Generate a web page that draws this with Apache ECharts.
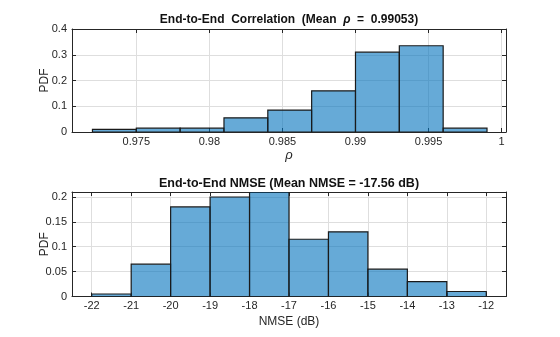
<!DOCTYPE html>
<html>
<head>
<meta charset="utf-8">
<script src="https://cdn.jsdelivr.net/npm/echarts@6/dist/echarts.min.js"></script>
<style>html,body{margin:0;padding:0;background:#fff}#c{width:560px;height:337px}</style>
</head>
<body>
<div id="c"></div>
<script>
// Top histogram: end-to-end correlation
const corrEdges = [0.972, 0.975, 0.978, 0.981, 0.984, 0.987, 0.990, 0.993, 0.996, 0.999];
const corrPdf = [0.01, 0.015, 0.015, 0.055, 0.085, 0.16, 0.31, 0.335, 0.015];
const corrXTicks = [0.975, 0.98, 0.985, 0.99, 0.995, 1];
const corrYTicks = [0, 0.1, 0.2, 0.3, 0.4];

// Bottom histogram: end-to-end NMSE
const nmseEdges = [-22, -21, -20, -19, -18, -17, -16, -15, -14, -13, -12];
const nmsePdf = [0.005, 0.065, 0.18, 0.2, 0.21, 0.115, 0.13, 0.055, 0.03, 0.01];
const nmseXTicks = [-22, -21, -20, -19, -18, -17, -16, -15, -14, -13, -12];
const nmseYTicks = [0, 0.05, 0.1, 0.15, 0.2];

const FONT = 'Liberation Sans, Arial, sans-serif';
const AXC = '#262626';

function binsData(edges, vals) {
  return vals.map((v, i) => [edges[i], edges[i + 1], v]);
}

function renderBin(params, api) {
  const p0 = api.coord([api.value(0), 0]);
  const p1 = api.coord([api.value(1), api.value(2)]);
  return {
    type: 'rect',
    shape: { x: p0[0], y: p1[1], width: p1[0] - p0[0], height: p0[1] - p1[1] },
    style: { fill: 'rgba(0,114,189,0.6)', stroke: '#1a1a1a', lineWidth: 1.2 }
  };
}

function xAxes(gridIndex, min, max, ticks, name, nameStyle, nameGap) {
  return [
    {
      type: 'value', gridIndex, position: 'bottom', min, max,
      name, nameLocation: 'middle', nameGap, nameMoveOverlap: false,
      nameTextStyle: Object.assign({ fontFamily: FONT, fontSize: 12, color: AXC }, nameStyle),
      axisLine: { onZero: false, lineStyle: { color: AXC, width: 1 } },
      axisTick: { inside: true, length: 4, customValues: ticks, lineStyle: { color: AXC } },
      axisLabel: { customValues: ticks, margin: 4, fontFamily: FONT, fontSize: 11, color: AXC },
      splitLine: { show: true, lineStyle: { color: '#dedede', width: 1 } }
    },
    {
      type: 'value', gridIndex, position: 'top', min, max,
      axisLine: { onZero: false, lineStyle: { color: AXC, width: 1 } },
      axisTick: { inside: true, length: 4, customValues: ticks, lineStyle: { color: AXC } },
      axisLabel: { show: false },
      splitLine: { show: false }
    }
  ];
}

function yAxes(gridIndex, min, max, ticks) {
  return [
    {
      type: 'value', gridIndex, position: 'left', min, max,
      name: 'PDF', nameLocation: 'middle', nameGap: 21, nameMoveOverlap: false,
      nameTextStyle: { fontFamily: FONT, fontSize: 12, color: AXC },
      axisLine: { show: true, onZero: false, lineStyle: { color: AXC, width: 1 } },
      axisTick: { show: true, inside: true, length: 4, customValues: ticks, lineStyle: { color: AXC } },
      axisLabel: { customValues: ticks, margin: 5, fontFamily: FONT, fontSize: 11, color: AXC },
      splitLine: { show: true, lineStyle: { color: '#dedede', width: 1 } }
    },
    {
      type: 'value', gridIndex, position: 'right', min, max,
      axisLine: { show: true, onZero: false, lineStyle: { color: AXC, width: 1 } },
      axisTick: { show: true, inside: true, length: 4, customValues: ticks, lineStyle: { color: AXC } },
      axisLabel: { show: false },
      splitLine: { show: false }
    }
  ];
}

const chart = echarts.init(document.getElementById('c'), null, { renderer: 'canvas' });
chart.setOption({
  animation: false,
  backgroundColor: '#fff',
  grid: [
    { left: 72, right: 54, top: 29, height: 103 },
    { left: 72, right: 54, top: 192, height: 104.5 }
  ],
  xAxis: [].concat(
    xAxes(0, 0.9706, 1.0003, corrXTicks, 'ρ', { fontStyle: 'italic', fontSize: 13 }, 17),
    xAxes(1, -22.5, -11.5, nmseXTicks, 'NMSE (dB)', {}, 19)
  ),
  yAxis: [].concat(
    yAxes(0, 0, 0.4, corrYTicks),
    yAxes(1, 0, 0.21, nmseYTicks)
  ),
  graphic: [
    {
      type: 'text', x: 289, y: 20,
      style: {
        text: '{b|End-to-End  Correlation  (Mean  }{r|ρ}{b|  =  0.99053)}',
        textAlign: 'center', textVerticalAlign: 'middle',
        rich: {
          b: { fontFamily: FONT, fontSize: 12, fontWeight: 'bold', fill: '#111' },
          r: { fontFamily: FONT, fontSize: 12, fontStyle: 'italic', fontWeight: 'bold', fill: '#111' }
        }
      }
    },
    {
      type: 'text', x: 289, y: 184,
      style: {
        text: 'End-to-End NMSE (Mean NMSE = -17.56 dB)',
        textAlign: 'center', textVerticalAlign: 'middle',
        font: 'bold 12.5px ' + FONT, fill: '#111'
      }
    }
  ],
  series: [
    {
      type: 'custom', xAxisIndex: 0, yAxisIndex: 0,
      renderItem: renderBin, encode: { x: [0, 1], y: 2 },
      data: binsData(corrEdges, corrPdf), clip: true
    },
    {
      type: 'custom', xAxisIndex: 2, yAxisIndex: 2,
      renderItem: renderBin, encode: { x: [0, 1], y: 2 },
      data: binsData(nmseEdges, nmsePdf), clip: true
    }
  ]
});
</script>
</body>
</html>
